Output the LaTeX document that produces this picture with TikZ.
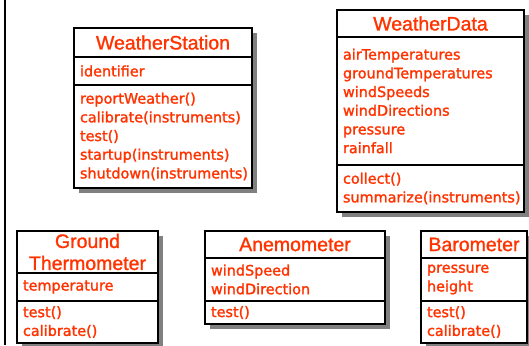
\documentclass[tikz,border=0pt]{standalone}
\usepackage{fontspec}
\setmainfont{DejaVu Sans}
\newfontfamily\titlefam[FakeBold=1.2]{Liberation Sans}
\newfontfamily\bodyfam[FakeBold=1.6]{DejaVu Sans}
\usepackage{tikz}
\usetikzlibrary{shapes}
\usetikzlibrary{positioning}
\usetikzlibrary{shadows}
\definecolor{umlred}{RGB}{255,51,0}
\newcommand{\titlefont}{\titlefam\fontsize{19.5}{22}\selectfont}
\newcommand{\bodyfont}{\bodyfam\fontsize{14.4}{18.7}\selectfont}
\tikzstyle{classbox} = [rectangle, draw=black, line width=2pt, fill=white, text=umlred, inner ysep=0pt, outer sep=0pt, 
drop shadow={shadow xshift=5pt, shadow yshift=-5pt, fill=black!50, opacity=1}]
\tikzstyle{classname} = [classbox, inner xsep=2pt, font=\titlefont, align=center, anchor=north west]
\tikzstyle{classpart} = [classbox, inner xsep=6pt, font=\bodyfont, align=left]

\begin{document}
\begin{tikzpicture}[x=1pt, y=1pt]

    \useasboundingbox (0,0) rectangle (529,-345);
    \draw[line width=2pt] (5,0) -- (5,-345);

    \node(WS)[classname, minimum width=178pt, minimum height=29pt] at (74,-28) {WeatherStation};
    \node(WS1)[classpart, below=0pt of WS, text width=166pt, minimum height=28pt]{identifier};
    \node(WS2)[classpart, below=0pt of WS1, text width=166pt, minimum height=103pt]
	  {reportWeather()\\calibrate(instruments)\\test()\\startup(instruments)\\shutdown(instruments)};

    \node(WD)[classname, minimum width=187pt, minimum height=27pt] at (337,-10) {WeatherData};
    \node(WD1)[classpart, below=0pt of WD, text width=175pt, minimum height=128pt]
	  {airTemperatures\\groundTemperatures\\windSpeeds\\windDirections\\pressure\\rainfall};
    \node(WD2)[classpart, below=0pt of WD1, text width=175pt, minimum height=47pt]
	  {collect()\\summarize(instruments)};

    \node(GT)[classname, minimum width=141pt, minimum height=42pt] at (17,-231) {Ground\\Thermometer};
    \node(GT1)[classpart, below=0pt of GT, text width=129pt, minimum height=28pt]{temperature};
    \node(GT2)[classpart, below=0pt of GT1, text width=129pt, minimum height=42pt]{test()\\calibrate()};

    \node(AN)[classname, minimum width=180pt, minimum height=27pt] at (205,-231) {Anemometer};
    \node(AN1)[classpart, below=0pt of AN, text width=168pt, minimum height=43pt]{windSpeed\\windDirection};
    \node(AN2)[classpart, below=0pt of AN1, text width=168pt, minimum height=23pt]{test()};

    \node(BA)[classname, minimum width=106pt, minimum height=27pt] at (421,-231) {Barometer};
    \node(BA1)[classpart, below=0pt of BA, text width=94pt, minimum height=43pt]{pressure\\height};
    \node(BA2)[classpart, below=0pt of BA1, text width=94pt, minimum height=42pt]{test()\\calibrate()};

\end{tikzpicture}
\end{document}
